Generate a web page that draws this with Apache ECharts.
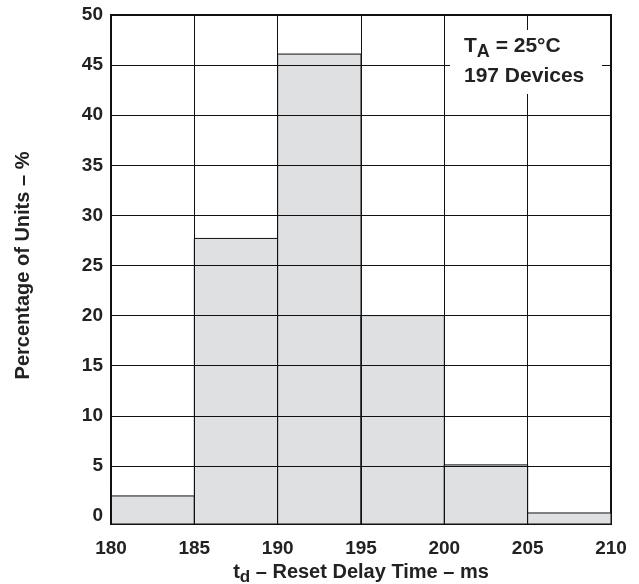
<!DOCTYPE html>
<html>
<head>
<meta charset="utf-8">
<script src="https://cdn.jsdelivr.net/npm/echarts@6/dist/echarts.min.js"></script>
<style>
  html, body { margin: 0; padding: 0; background: #fff; }
  #chart { width: 639px; height: 584px; }
</style>
</head>
<body>
<div id="chart"></div>
<script>
// histogram bins (ms) and percentage of units in each
const binStart = [180, 185, 190, 195, 200, 205]
const binEnd = [185, 190, 195, 200, 205, 210]
const percent = [2.0, 27.7, 46.1, 20.0, 5.1, 0.3]
const xTicks = [180, 185, 190, 195, 200, 205, 210]
const yTicks = [0, 5, 10, 15, 20, 25, 30, 35, 40, 45, 50]
// the plot frame sits a little below the 0 line
const frameMin = -0.8

const chart = echarts.init(document.getElementById('chart'))
const font = 'Liberation Sans, Arial, sans-serif'

const option = {
  animation: false,
  grid: [
    { left: 111, right: 28, top: 15, bottom: 60, show: true, borderColor: '#111', borderWidth: 2, outerBoundsMode: 'none' },
    { left: 111, right: 28, top: 15, bottom: 68, outerBoundsMode: 'none' }
  ],
  xAxis: [
    {
      type: 'value', gridIndex: 0,
      min: xTicks[0], max: xTicks[xTicks.length - 1], interval: 5,
      z: 5,
      axisLine: { show: false },
      axisTick: { show: false },
      splitLine: { show: true, lineStyle: { color: '#111', width: 1 } },
      axisLabel: { color: '#222', fontFamily: font, fontWeight: 'bold', fontSize: 19, margin: 15 },
      name: '{t|t}{s|d}{t| – Reset Delay Time – ms}',
      nameLocation: 'middle',
      nameGap: 35,
      nameTextStyle: {
        rich: {
          t: { fontFamily: font, fontWeight: 'bold', fontSize: 20, color: '#222' },
          s: { fontFamily: font, fontWeight: 'bold', fontSize: 17, color: '#222', padding: [9, 0, 0, 0] }
        }
      }
    },
    { type: 'value', gridIndex: 1, min: 180, max: 210, show: false }
  ],
  yAxis: [
    { type: 'value', gridIndex: 0, min: frameMin, max: 50, show: false },
    {
      type: 'value', gridIndex: 1,
      min: yTicks[0], max: yTicks[yTicks.length - 1], interval: 5,
      z: 5,
      axisLine: { show: false },
      axisTick: { show: false },
      splitLine: { show: true, showMinLine: false, showMaxLine: false, lineStyle: { color: '#111', width: 1 } },
      axisLabel: { color: '#222', fontFamily: font, fontWeight: 'bold', fontSize: 19, margin: 8 },
      name: 'Percentage of Units – %',
      nameLocation: 'middle',
      nameGap: 78,
      nameTextStyle: { color: '#222', fontFamily: font, fontWeight: 'bold', fontSize: 20 }
    }
  ],
  series: [
    {
      type: 'custom',
      xAxisIndex: 0,
      yAxisIndex: 0,
      z: 1,
      data: binStart.map((s, i) => [s, binEnd[i], percent[i]]),
      renderItem: function (params, api) {
        const p0 = api.coord([api.value(0), frameMin])
        const p1 = api.coord([api.value(1), api.value(2)])
        return {
          type: 'rect',
          shape: { x: p0[0], y: p1[1], width: p1[0] - p0[0], height: p0[1] - p1[1] },
          style: { fill: '#dfe0e2', stroke: '#111', lineWidth: 1 }
        }
      }
    }
  ],
  graphic: [
    {
      type: 'rect',
      shape: { x: 450, y: 30, width: 152, height: 64 },
      style: { fill: '#fff' },
      z: 10
    },
    {
      type: 'text',
      left: 464,
      top: 31,
      z: 11,
      style: {
        text: '{a|T}{b|A}{a| = 25°C}\n{a|197 Devices}',
        rich: {
          a: { fontFamily: font, fontWeight: 'bold', fontSize: 21, fill: '#222', lineHeight: 30 },
          b: { fontFamily: font, fontWeight: 'bold', fontSize: 18, fill: '#222', padding: [12, 0, 0, 0], lineHeight: 30 }
        }
      }
    }
  ]
}

chart.setOption(option)
</script>
</body>
</html>
